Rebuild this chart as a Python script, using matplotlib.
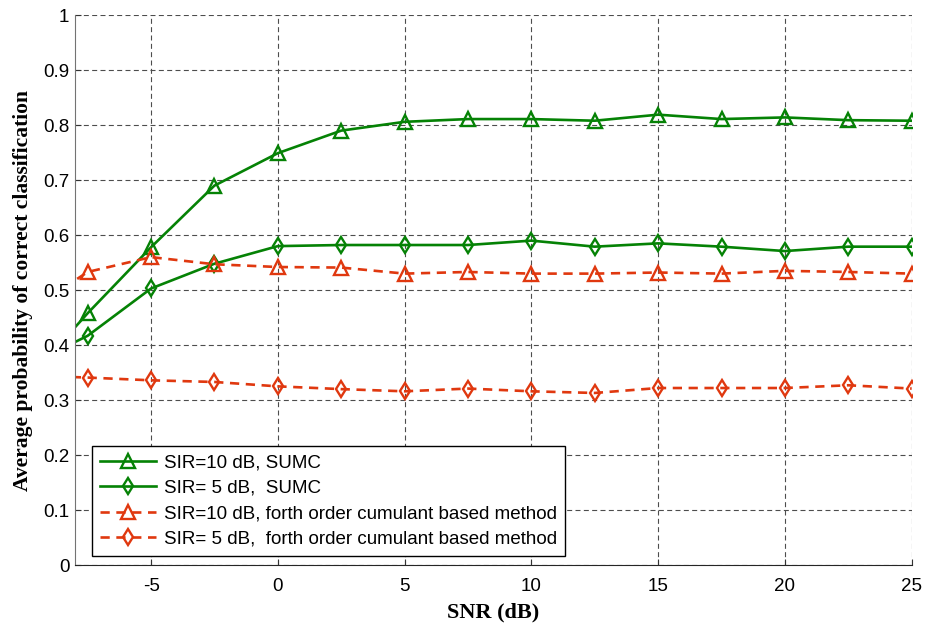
from matplotlib import pyplot as plt
import numpy as np

# ---- data (SNR in dB)
snr = [-10, -7.5, -5, -2.5, 0, 2.5, 5, 7.5, 10, 12.5, 15, 17.5, 20, 22.5, 25]

sumc_sir10 = [0.33, 0.458, 0.578, 0.690, 0.749, 0.790, 0.806, 0.811, 0.811, 0.808, 0.819, 0.811, 0.814, 0.809, 0.808]
sumc_sir5 = [0.36, 0.417, 0.503, 0.548, 0.580, 0.582, 0.582, 0.582, 0.590, 0.579, 0.585, 0.579, 0.571, 0.579, 0.579]
cum_sir10 = [0.457, 0.533, 0.560, 0.547, 0.542, 0.541, 0.530, 0.533, 0.530, 0.530, 0.532, 0.530, 0.535, 0.533, 0.530]
cum_sir5 = [0.345, 0.341, 0.336, 0.333, 0.325, 0.320, 0.316, 0.321, 0.316, 0.313, 0.322, 0.322, 0.322, 0.327, 0.321]

labels = ['SIR=10 dB, SUMC',
          'SIR= 5 dB,  SUMC',
          'SIR=10 dB, forth order cumulant based method',
          'SIR= 5 dB,  forth order cumulant based method']

green = '#058205'
red = '#E0380F'

plt.rcParams['font.family'] = ['Liberation Sans', 'DejaVu Sans']
plt.rcParams['axes.unicode_minus'] = False

fig = plt.figure(figsize=(9.26, 6.3), dpi=100)
ax = fig.add_axes([0.081, 0.103, 0.9035, 0.873])

common = dict(linewidth=1.9, markerfacecolor='none', markeredgewidth=1.7)
ax.plot(snr, sumc_sir10, '-^', color=green, markersize=9.5, label=labels[0], **common)
ax.plot(snr, sumc_sir5, '-d', color=green, markersize=8.3, label=labels[1], **common)
ax.plot(snr, cum_sir10, '--^', color=red, markersize=9.5, label=labels[2], dashes=(3.5, 2.5), **common)
ax.plot(snr, cum_sir5, '--d', color=red, markersize=8.3, label=labels[3], dashes=(3.5, 2.5), **common)

ax.set_xlim(-8, 25)
ax.set_ylim(0, 1)
ax.set_xticks([-5, 0, 5, 10, 15, 20, 25])
ax.set_yticks(np.arange(0, 1.01, 0.1))
ax.set_yticklabels(['0', '0.1', '0.2', '0.3', '0.4', '0.5', '0.6', '0.7', '0.8', '0.9', '1'])
ax.tick_params(direction='in', length=4, labelsize=13.5, color='0.2')
ax.tick_params(axis='y', pad=4)
ax.tick_params(axis='x', pad=9)

ax.grid(True, color='0.3', linestyle=(0, (4.5, 3)), linewidth=0.8)
ax.set_axisbelow(True)
ax.spines['top'].set_visible(False)
ax.spines['right'].set_visible(False)
ax.spines['left'].set_color('0.45')
ax.spines['bottom'].set_color('0.15')

ax.set_xlabel('SNR (dB)', fontsize=16, fontweight='bold', family='Liberation Serif', labelpad=6)
ax.set_ylabel('Average probability of correct classification', fontsize=15.5,
              fontweight='bold', family='Liberation Serif', labelpad=7)

leg = ax.legend(loc='lower left', bbox_to_anchor=(0.02, 0.016), fontsize=13.5,
                handlelength=3.0, fancybox=False, framealpha=1, edgecolor='black',
                borderpad=0.45, labelspacing=0.45, handletextpad=0.4, borderaxespad=0)
leg.get_frame().set_linewidth(1.0)

plt.savefig('out.png', dpi=100)
